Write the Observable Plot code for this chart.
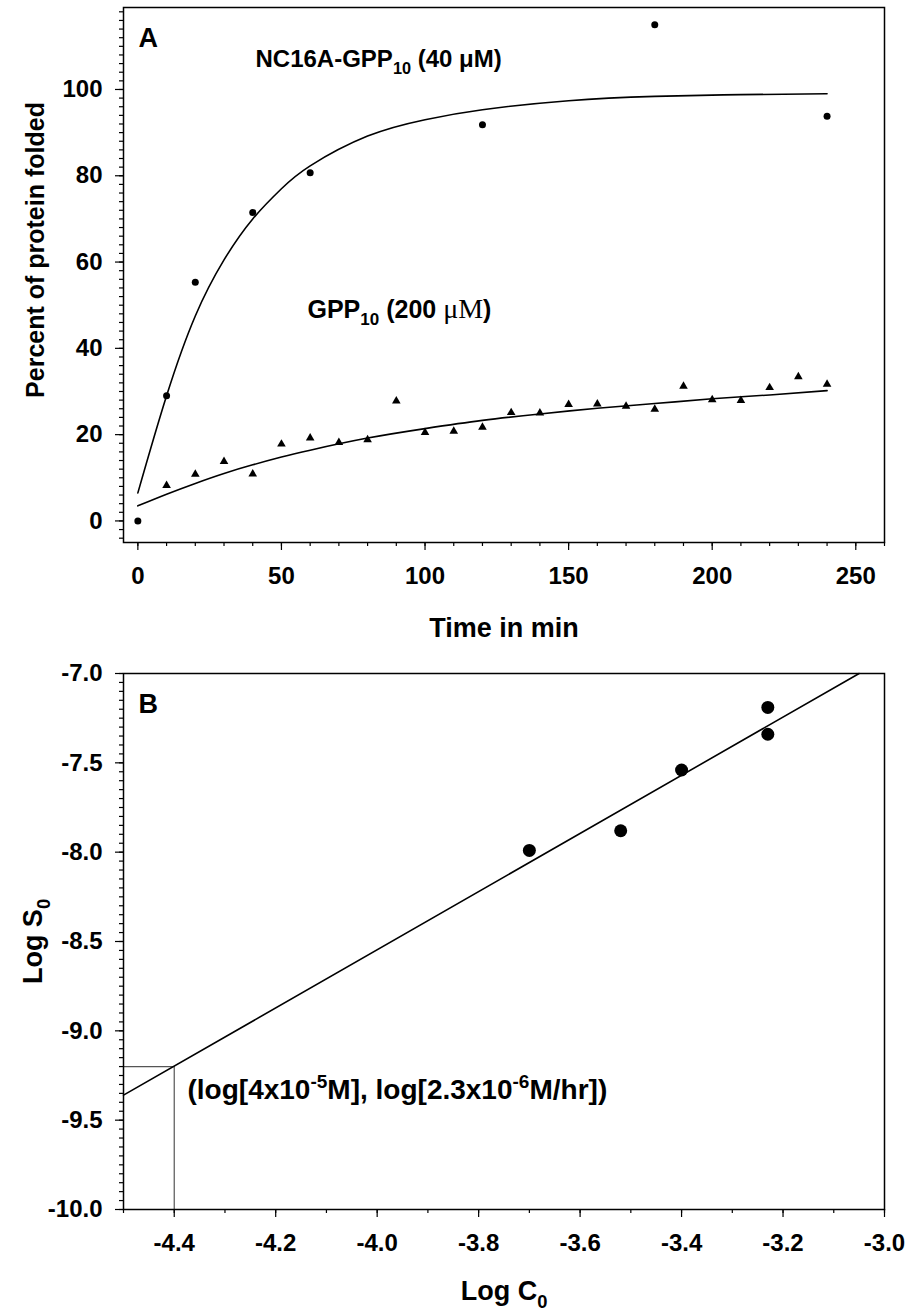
<!DOCTYPE html>
<html><head><meta charset="utf-8">
<script src="https://cdn.jsdelivr.net/npm/d3@7"></script>
<script src="https://cdn.jsdelivr.net/npm/@observablehq/plot@0.6"></script>
<style>
body{margin:0;background:#fff;}
#chart svg{display:block;}
</style>
</head><body><div id="chart"></div>
<script>
// ---------- Panel A data ----------
const gppTime = [10,20,30,40,50,60,70,80,90,100,110,120,130,140,150,160,170,180,190,200,210,220,230,240];
const gppPercent = [8.2,10.8,13.8,10.9,17.8,19.2,18.2,18.8,27.8,20.5,20.8,21.7,25.1,25.0,27.0,27.1,26.6,25.9,31.2,28.1,27.9,30.9,33.4,31.7];
const ncTime = [0,10,20,40,60,120,180,240];
const ncPercent = [0,29,55.3,71.5,80.7,91.8,115,93.8];
// fitted curves
const ncFitTime = [0,10,20,30,40,50,60,80,100,120,150,180,210,240];
const ncFitPercent = [6.5,29,47.5,60.5,70,77,82.3,89.2,93,95.3,97.4,98.4,98.8,99];
const gppFitTime = [0,10,20,30,40,50,60,80,100,120,140,160,180,200,220,240];
const gppFitPercent = [3.5,6.2,8.7,11.0,13.0,14.8,16.4,19.2,21.4,23.3,24.8,26.1,27.2,28.3,29.2,30.2];
const aXTicks = [0,50,100,150,200,250];
const aYTicks = [0,20,40,60,80,100];

// ---------- Panel B data ----------
const logC0 = [-3.70,-3.52,-3.40,-3.23,-3.23];
const logS0 = [-7.99,-7.88,-7.54,-7.19,-7.34];
const fitLogC0 = [-4.5,-3.05];
const fitLogS0 = [-9.36,-7.0];
const refLogC0 = -4.4;
const refLogS0 = -9.2;
const bXTicks = [-4.4,-4.2,-4.0,-3.8,-3.6,-3.4,-3.2,-3.0];
const bYTicks = [-10.0,-9.5,-9.0,-8.5,-8.0,-7.5,-7.0];

const FONT = "'Liberation Sans', Arial, sans-serif";
const tickFont = 24;

function setRich(svg, plain, parts, base) {
  svg.querySelectorAll("text").forEach(t => {
    if (t.textContent !== plain) return;
    while (t.firstChild) t.removeChild(t.firstChild);
    let shift = 0;
    for (const p of parts) {
      const [str, mode, family, weight, size] = typeof p === "string" ? [p] : p;
      const ts = document.createElementNS("http://www.w3.org/2000/svg", "tspan");
      ts.textContent = str;
      const target = mode === "sub" ? base * 0.3 : mode === "sup" ? -base * 0.4 : 0;
      if (target !== shift) { ts.setAttribute("dy", target - shift); shift = target; }
      if (mode) ts.setAttribute("font-size", base * 0.68);
      if (size) ts.setAttribute("font-size", size);
      if (family) ts.setAttribute("font-family", family);
      if (weight) ts.setAttribute("font-weight", weight);
      t.appendChild(ts);
    }
  });
}

const styleBase = {fontFamily: FONT, fontSize: tickFont + "px", fontWeight: "bold", color: "black", background: "white", overflow: "visible"};

// ---------- Panel A ----------
const ncPts = ncTime.map((t, i) => ({t, v: ncPercent[i]}));
const gppPts = gppTime.map((t, i) => ({t, v: gppPercent[i]}));
const ncFit = ncFitTime.map((t, i) => ({t, v: ncFitPercent[i]}));
const gppFit = gppFitTime.map((t, i) => ({t, v: gppFitPercent[i]}));

const plotA = Plot.plot({
  width: 911, height: 650,
  marginTop: 7, marginBottom: 108, marginLeft: 123, marginRight: 27,
  style: styleBase,
  x: {domain: [-5, 260]},
  y: {domain: [-5, 119]},
  marks: [
    Plot.axisX(d3.range(0, 261, 10), {tickSize: 4, tickFormat: () => "", label: null, strokeWidth: 1.2}),
    Plot.axisX(aXTicks, {tickSize: 8, tickPadding: 16, tickFormat: d => String(d), label: null, strokeWidth: 1.2, fontSize: tickFont}),
    Plot.axisY(d3.range(-4, 119, 2), {tickSize: 4, tickFormat: () => "", label: null, strokeWidth: 1.2}),
    Plot.axisY(aYTicks, {tickSize: 8, tickPadding: 13, tickFormat: d => String(d), label: null, strokeWidth: 1.2, fontSize: tickFont}),
    Plot.frame({stroke: "black", strokeWidth: 1.5}),
    Plot.line(ncFit, {x: "t", y: "v", curve: "natural", stroke: "black", strokeWidth: 1.6}),
    Plot.line(gppFit, {x: "t", y: "v", curve: "natural", stroke: "black", strokeWidth: 1.6}),
    Plot.dot(ncPts, {x: "t", y: "v", r: 3.5, fill: "black", stroke: "none"}),
    Plot.dot(gppPts, {x: "t", y: "v", r: 3.2, symbol: "triangle", fill: "black", stroke: "none"}),
    Plot.text(["A"], {text: d => d, frameAnchor: "top-left", dx: 15, dy: 31, textAnchor: "start", lineAnchor: "middle", fontSize: 27}),
    Plot.text(["NC16A-GPP10 (40 μM)"], {text: d => d, frameAnchor: "top-left", dx: 132, dy: 52, textAnchor: "start", lineAnchor: "middle", fontSize: 24}),
    Plot.text(["GPP10 (200 μM)"], {text: d => d, frameAnchor: "top-left", dx: 184, dy: 302, textAnchor: "start", lineAnchor: "middle", fontSize: 25}),
    Plot.text(["Time in min"], {text: d => d, frameAnchor: "bottom", dy: 86, textAnchor: "middle", lineAnchor: "middle", fontSize: 27}),
    Plot.text(["Percent of protein folded"], {text: d => d, frameAnchor: "left", rotate: -90, dx: -88, dy: -25, textAnchor: "middle", lineAnchor: "middle", fontSize: 25})
  ]
});
setRich(plotA, "NC16A-GPP10 (40 μM)", ["NC16A-GPP", ["10", "sub"], " (40 μM)"], 24);
setRich(plotA, "GPP10 (200 μM)", ["GPP", ["10", "sub"], " (200 ", ["μM", null, "'Liberation Serif', 'Times New Roman', serif", "normal", 28], ")"], 25);

// ---------- Panel B ----------
const bPts = logC0.map((c, i) => ({c, s: logS0[i]}));
const bFit = fitLogC0.map((c, i) => ({c, s: fitLogS0[i]}));

const plotB = Plot.plot({
  width: 911, height: 666,
  marginTop: 23, marginBottom: 107, marginLeft: 123, marginRight: 27,
  style: styleBase,
  x: {domain: [-4.5, -3.0]},
  y: {domain: [-10, -7]},
  marks: [
    Plot.axisX(d3.range(-45, -29, 1).map(d => d / 10), {tickSize: 4, tickFormat: () => "", label: null, strokeWidth: 1.2}),
    Plot.axisX(bXTicks, {tickSize: 8, tickPadding: 16, tickFormat: d => d.toFixed(1), label: null, strokeWidth: 1.2, fontSize: tickFont}),
    Plot.axisY(d3.range(-200, -139, 1).map(d => d / 20), {tickSize: 4, tickFormat: () => "", label: null, strokeWidth: 1.2}),
    Plot.axisY(bYTicks, {tickSize: 8, tickPadding: 13, tickFormat: d => d.toFixed(1), label: null, strokeWidth: 1.2, fontSize: tickFont}),
    Plot.ruleY([refLogS0], {x1: -4.5, x2: refLogC0, stroke: "#555", strokeWidth: 1.2}),
    Plot.ruleX([refLogC0], {y1: -10, y2: refLogS0, stroke: "#555", strokeWidth: 1.2}),
    Plot.frame({stroke: "black", strokeWidth: 1.5}),
    Plot.line(bFit, {x: "c", y: "s", stroke: "black", strokeWidth: 1.6}),
    Plot.dot(bPts, {x: "c", y: "s", r: 6.5, fill: "black", stroke: "none"}),
    Plot.text(["B"], {text: d => d, frameAnchor: "top-left", dx: 15, dy: 31, textAnchor: "start", lineAnchor: "middle", fontSize: 27}),
    Plot.text(["(log[4x10-5M], log[2.3x10-6M/hr])"], {text: d => d, frameAnchor: "top-left", dx: 64, dy: 417, textAnchor: "start", lineAnchor: "middle", fontSize: 28}),
    Plot.text(["Log C0"], {text: d => d, frameAnchor: "bottom", dy: 82, textAnchor: "middle", lineAnchor: "middle", fontSize: 27}),
    Plot.text(["Log S0"], {text: d => d, frameAnchor: "left", rotate: -90, dx: -90, dy: 0, textAnchor: "middle", lineAnchor: "middle", fontSize: 27})
  ]
});
setRich(plotB, "(log[4x10-5M], log[2.3x10-6M/hr])", ["(log[4x10", ["-5", "sup"], "M], log[2.3x10", ["-6", "sup"], "M/hr])"], 28);
setRich(plotB, "Log C0", ["Log C", ["0", "sub"]], 27);
setRich(plotB, "Log S0", ["Log S", ["0", "sub"]], 27);

const chart = document.getElementById("chart");
chart.appendChild(plotA);
chart.appendChild(plotB);
</script>
</body></html>
